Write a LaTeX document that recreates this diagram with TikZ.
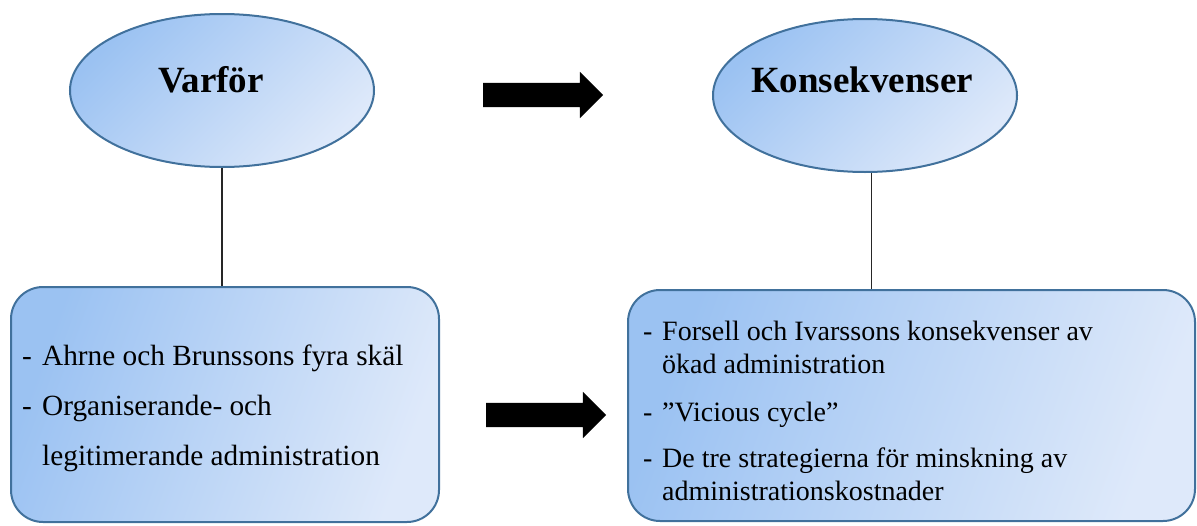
\documentclass[tikz,border=0pt]{standalone}
\usepackage{fontspec}
\setmainfont{Liberation Serif}
\usetikzlibrary{shapes.geometric, shapes.arrows}
\definecolor{bubbletop}{RGB}{155,194,242}
\definecolor{bubblebot}{RGB}{222,233,250}
\definecolor{bubbleline}{RGB}{65,113,156}

\begin{document}
\begin{tikzpicture}[x=1pt, y=-1pt, 
	bubble/.style={ellipse, draw=bubbleline, line width=2pt, left color=bubbletop, right color=bubblebot, shading angle=45, minimum width=304pt, minimum height=153pt, inner sep=0pt}, 
	panel/.style={rectangle, rounded corners=32pt, draw=bubbleline, line width=2pt, left color=bubbletop, right color=bubblebot, shading angle=70, inner sep=0pt}, 
	heading/.style={anchor=base, inner sep=0pt, font=\fontsize{37}{44}\selectfont\bfseries}, 
	items/.style={anchor=base west, inner sep=0pt}, 
	fatarrow/.style={single arrow, fill=black, draw=none, inner sep=12pt, minimum height=120pt, minimum width=46pt, single arrow head extend=11pt}, 
	connector/.style={draw=black!85, line width=1.2pt}]
	\useasboundingbox (0,0) rectangle (1197,525); 
	\node[bubble] (varfor) at (222,90.5) {}; 
	\node[bubble] (konsekv) at (865,95.5) {}; 
	\node[heading] (varfor_title) at (211,92) {Varför}; 
	\node[heading] (konsekv_title) at (862,92) {Konsekvenser}; 
	\node[panel, minimum width=428pt, minimum height=235pt] (varfor_box) at (225,404.5) {}; 
	\node[panel, minimum width=567pt, minimum height=231pt] (konsekv_box) at (911.5,405.5) {}; 
	\node[items, font=\fontsize{29.3}{50}\selectfont] (varfor_list) at (22,365) {\begin{tabular}[t]{@{}l@{}l@{}}
		\makebox[20pt][l]{-} & Ahrne och Brunssons fyra skäl \\
		\makebox[20pt][l]{-} & Organiserande- och \\
		 & legitimerande administration
	\end{tabular}}; 
	\node[items, font=\fontsize{28}{33.5}\selectfont] (konsekv_list) at (643,340) {\begin{tabular}[t]{@{}l@{}l@{}}
		\makebox[19pt][l]{-} & Forsell och Ivarssons konsekvenser av \\
		 & ökad administration \\[14pt]
		\makebox[19pt][l]{-} & ”Vicious cycle” \\[12.5pt]
		\makebox[19pt][l]{-} & De tre strategierna för minskning av \\
		 & administrationskostnader
	\end{tabular}}; 
	\node[fatarrow] (arrow_top) at (537,95) {}; 
	\node[fatarrow] (arrow_bot) at (540,415) {}; 
	\draw[connector] (varfor.south) -- (varfor.south |- varfor_box.north); 
	\draw[connector] (konsekv.-85) -- (konsekv.-85 |- konsekv_box.north); 
\end{tikzpicture}
\end{document}
